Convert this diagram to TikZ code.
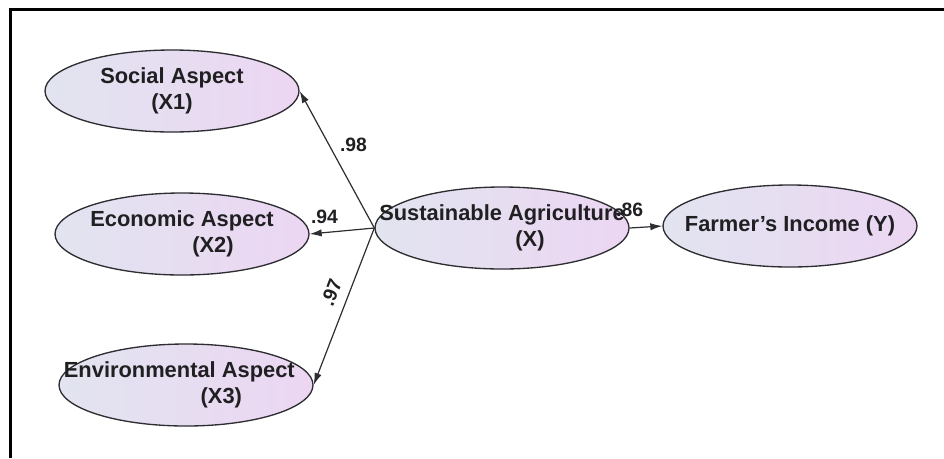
\documentclass[tikz,border=0pt]{standalone}
\usepackage{fontspec}
\setmainfont{Liberation Sans}
\usetikzlibrary{shapes.geometric,arrows.meta}
\definecolor{fillL}{RGB}{226,228,240}
\definecolor{fillR}{RGB}{236,214,242}
\definecolor{ink}{RGB}{45,45,50}
\tikzset{
	latent/.style={ellipse, draw=ink, line width=1pt, left color=fillL, right color=fillR,
		minimum width=190.5pt, minimum height=61.5pt, inner sep=0pt},
	vartext/.style={align=center, font=\bfseries\fontsize{16.4}{19}\selectfont, text=ink!70!black, inner sep=0pt},
	loading/.style={draw=ink, line width=0.9pt, -{Latex[length=9pt,width=5.5pt]}},
	coef/.style={font=\bfseries\fontsize{14.5}{16}\selectfont, text=ink!70!black, inner sep=1pt}
}
\begin{document}
\begin{tikzpicture}[x=0.75pt,y=-0.75pt]
	\useasboundingbox (0,0) rectangle (944,458);
	%frame
	\draw[line width=2.25pt] (944,9) -- (10,9) -- (10,458);
	%latent variables
	\node[latent] (soc) at (172,91) {};
	\node[latent] (eco) at (182,234) {};
	\node[latent] (env) at (186,385) {};
	\node[latent] (sus) at (502,228) {};
	\node[latent] (far) at (790,226) {};
	%loadings
	\draw[loading] (sus.west) -- node[coef, pos=.61, right=7pt] {.98} (soc.east);
	\draw[loading] (sus.west) -- node[coef, pos=.77, above=5pt] {.94} (eco.east);
	\draw[loading] (sus.west) -- node[coef, pos=.45, sloped, above=6pt] {.97} (env.east);
	\draw[loading] (sus.east) -- (far.west);
	%names
	\node[vartext] (socT) at (soc) {Social Aspect\\(X1)};
	\node[vartext] (ecoT) at (eco) {Economic Aspect\\\hspace*{46.5pt}(X2)};
	\node[vartext, xshift=-5pt] (envT) at (env) {Environmental Aspect\\\hspace*{63pt}(X3)};
	\node[vartext] (susT) at (sus) {Sustainable Agriculture\\\hspace*{42pt}(X)};
	\node[vartext] (farT) at (far) {Farmer's Income (Y)};
	\node[coef, above=7pt] (pathY) at (sus.east) {.86};
\end{tikzpicture}
\end{document}
